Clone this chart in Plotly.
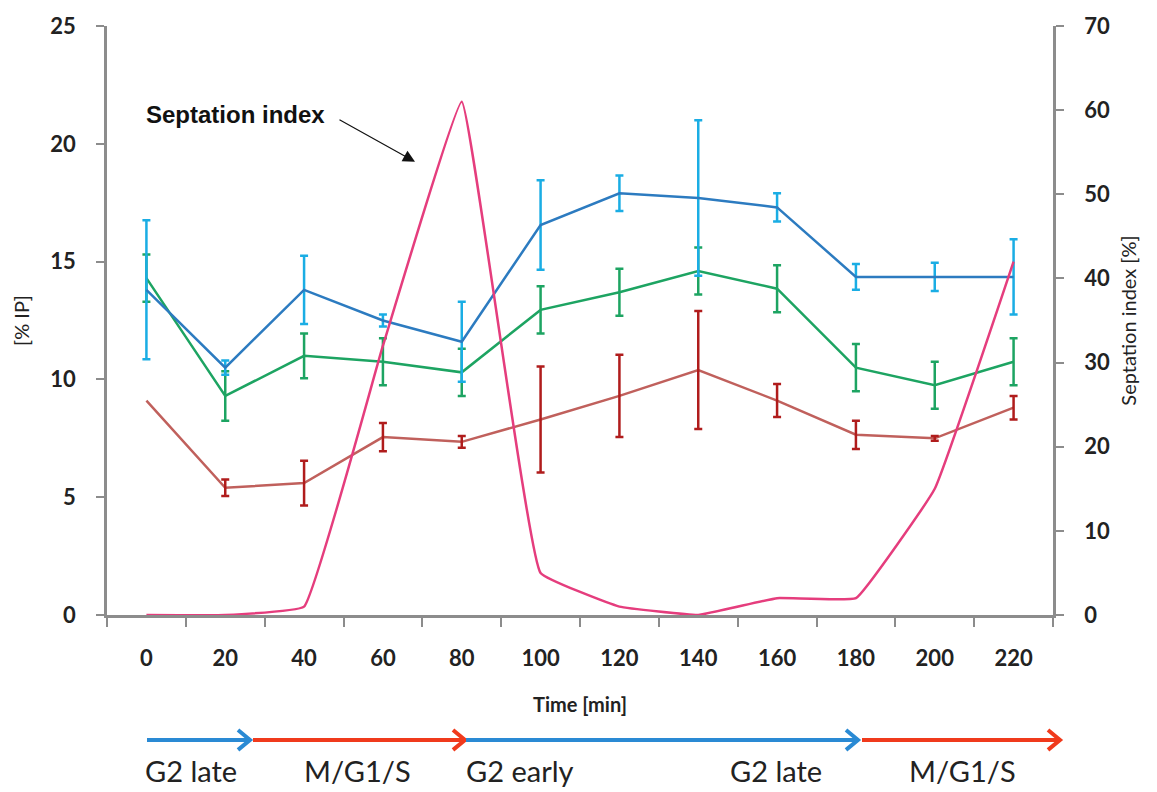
import plotly.graph_objects as go

# ---- data ----
time_min = ["0", "20", "40", "60", "80", "100", "120", "140", "160", "180", "200", "220"]
j_mean = [13.8, 10.5, 13.8, 12.5, 11.6, 16.55, 17.9, 17.7, 17.3, 14.35, 14.35, 14.35]
j_err = [2.95, 0.3, 1.45, 0.25, 1.7, 1.9, 0.75, 3.3, 0.6, 0.55, 0.6, 1.6]
a_mean = [14.3, 9.3, 11.0, 10.75, 10.3, 12.95, 13.7, 14.6, 13.85, 10.5, 9.75, 10.75]
a_err = [1.0, 1.05, 0.95, 1.0, 1.0, 1.0, 1.0, 1.0, 1.0, 1.0, 1.0, 1.0]
c_mean = [9.1, 5.4, 5.6, 7.55, 7.35, 8.3, 9.3, 10.4, 9.1, 7.65, 7.5, 8.8]
# no error bar is shown for C at t = 0
c_err_times = ["20", "40", "60", "80", "100", "120", "140", "160", "180", "200", "220"]
c_err = [0.35, 0.95, 0.6, 0.25, 2.25, 1.75, 2.5, 0.7, 0.6, 0.1, 0.5]
septation = [0, 0, 1, 32, 61, 5, 1, 0, 2, 2, 15, 42]

left_ticks = [0, 5, 10, 15, 20, 25]
right_ticks = [0, 10, 20, 30, 40, 50, 60, 70]
phases = ["G2 late", "M/G1/S", "G2 early", "G2 late", "M/G1/S"]

AX = "#8c8c8c"
TICKFONT = dict(family="Lato", size=22, color="#222222", weight="bold")

# plot-area pixel frame (for paper-coordinate decorations)
PL, PR, PT, PB = 107, 1053, 21, 615
def px_x(p):
    return (p - PL) / (PR - PL)
def px_y(p):
    return (PB - p) / (PB - PT)

c_lookup = dict(zip(time_min, c_mean))
c_err_means = [c_lookup[t] for t in c_err_times]

fig = go.Figure()

fig.add_trace(go.Scatter(
    x=time_min, y=c_mean, mode="lines", name="C",
    line=dict(color="#c0605c", width=2.5),
))
fig.add_trace(go.Scatter(
    x=c_err_times, y=c_err_means, mode="markers", name="C error", hoverinfo="skip",
    marker=dict(size=1, color="rgba(0,0,0,0)"),
    error_y=dict(type="data", array=c_err, color="#b01c1c", thickness=2.5, width=4),
))
fig.add_trace(go.Scatter(
    x=time_min, y=a_mean, mode="lines", name="A",
    line=dict(color="#1da462", width=2.5),
    error_y=dict(type="data", array=a_err, color="#1da462", thickness=2.5, width=4),
))
fig.add_trace(go.Scatter(
    x=time_min, y=j_mean, mode="lines", name="J",
    line=dict(color="#2c7bc0", width=2.5),
    error_y=dict(type="data", array=j_err, color="#1aade4", thickness=2.5, width=4),
))
fig.add_trace(go.Scatter(
    x=time_min, y=septation, mode="lines", name="Septation index", yaxis="y2",
    line=dict(color="#e53d7d", width=2.5, shape="spline", smoothing=0.25),
))

LBL = dict(family="Liberation Sans", size=24, color="#111", weight="bold")
annotations = [
    dict(x="220", y=14.4, xref="x", yref="y", text="J", showarrow=False,
         xanchor="left", xshift=9, font=LBL),
    dict(x="220", y=10.8, xref="x", yref="y", text="A", showarrow=False,
         xanchor="left", xshift=9, font=LBL),
    dict(x="220", y=8.7, xref="x", yref="y", text="C", showarrow=False,
         xanchor="left", xshift=9, font=LBL),
    dict(x=px_x(235), y=px_y(110), xref="paper", yref="paper",
         text="Septation index", showarrow=False, xanchor="center", yanchor="middle",
         font=LBL),
    dict(x=px_x(415), y=px_y(158), xref="paper", yref="paper",
         ax=-77, ay=-43, axref="pixel", ayref="pixel", text="", showarrow=True,
         arrowhead=2, arrowsize=2, arrowwidth=1.2, arrowcolor="#111"),
]

shapes = []
# phase arrows with open chevron heads
arrow_segments = [(147, 250, "#2a8ad4"), (253, 465, "#f03a1c"), (466, 858, "#2a8ad4"), (862, 1060, "#f03a1c")]
AY = 741
for x0, x1, col in arrow_segments:
    shapes.append(dict(type="line", xref="paper", yref="paper",
                       x0=px_x(x0), x1=px_x(x1 - 2), y0=px_y(AY), y1=px_y(AY),
                       line=dict(color=col, width=4)))
    path = "M {a},{b} L {c},{d} L {e},{f}".format(
        a=px_x(x1 - 12), b=px_y(AY - 10), c=px_x(x1), d=px_y(AY), e=px_x(x1 - 12), f=px_y(AY + 10))
    shapes.append(dict(type="path", xref="paper", yref="paper", path=path,
                       line=dict(color=col, width=4)))

phase_x = [191, 357, 520, 776, 962]
for px, label in zip(phase_x, phases):
    annotations.append(dict(
        x=px_x(px), y=px_y(772), xref="paper", yref="paper",
        text=label, showarrow=False, xanchor="center", yanchor="middle",
        font=dict(family="Lato", size=29, color="#222")))

fig.update_layout(
    width=1157, height=792,
    margin=dict(l=PL, r=1157 - PR, t=PT, b=792 - PB),
    paper_bgcolor="white", plot_bgcolor="white",
    showlegend=False,
    xaxis=dict(
        type="category", tickson="boundaries", range=[-0.5, 11.5],
        showline=True, linecolor=AX, linewidth=2.5,
        ticks="outside", ticklen=9, tickwidth=2, tickcolor=AX,
        showgrid=False, zeroline=False,
        tickfont=TICKFONT, ticklabelstandoff=22,
        title=dict(text="Time [min]", font=dict(family="Lato", size=20, color="#222", weight="bold"), standoff=28),
    ),
    yaxis=dict(
        range=[0, 25], tickvals=left_ticks,
        showline=True, linecolor=AX, linewidth=2.5,
        ticks="outside", ticklen=8, tickwidth=2, tickcolor=AX,
        showgrid=False, zeroline=False,
        tickfont=TICKFONT, ticklabelstandoff=16,
        title=dict(text="[% IP]", font=dict(family="Lato", size=20, color="#222"), standoff=16),
    ),
    yaxis2=dict(
        range=[0, 70], tickvals=right_ticks, overlaying="y", side="right",
        showline=True, linecolor=AX, linewidth=2.5,
        ticks="outside", ticklen=8, tickwidth=2, tickcolor=AX,
        showgrid=False, zeroline=False,
        tickfont=TICKFONT, ticklabelstandoff=16,
        title=dict(text="Septation index [%]", font=dict(family="Lato", size=20, color="#222"), standoff=14),
    ),
    annotations=annotations,
    shapes=shapes,
)

fig.write_html("out.html")
